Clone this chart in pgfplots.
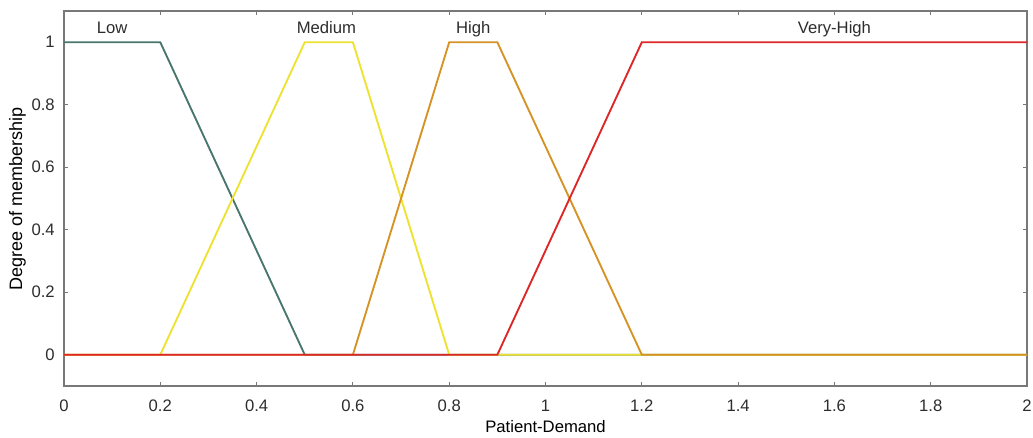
\documentclass[border=0pt]{standalone}
\usepackage{pgfplots}
\pgfplotsset{compat=1.18}
\usepackage{fontspec}
\setmainfont{Liberation Sans}

% membership-function colours
\definecolor{mfLow}{RGB}{72,118,108}
\definecolor{mfMed}{RGB}{238,226,48}
\definecolor{mfHigh}{RGB}{214,146,36}
\definecolor{mfVHigh}{RGB}{222,38,38}
\definecolor{axgray}{RGB}{120,120,120}
\definecolor{txt}{RGB}{45,45,45}

\newcommand{\lblfont}{\fontsize{12.5}{14}\selectfont}

\begin{document}
\begin{tikzpicture}[x=1pt,y=1pt]
\lblfont
\begin{axis}[
  scale only axis,
  width=722.25pt, height=281.25pt,
  xmin=0, xmax=2, ymin=-0.1, ymax=1.1,
  xtick={0,0.2,0.4,0.6,0.8,1,1.2,1.4,1.6,1.8,2},
  xticklabels={0,0.2,0.4,0.6,0.8,1,1.2,1.4,1.6,1.8,2},
  ytick={0,0.2,0.4,0.6,0.8,1},
  yticklabels={0,0.2,0.4,0.6,0.8,1},
  tick align=inside,
  major tick length=3pt,
  axis line style={draw=axgray, line width=0.8pt},
  tick style={draw=axgray, line width=0.7pt},
  /pgf/number format/assume math mode=true,
  ticklabel style={font=\lblfont, text=txt, inner sep=0pt},
  xticklabel style={anchor=center, yshift=-14.6pt},
  yticklabel style={anchor=east, xshift=-6.75pt},
  label style={font=\lblfont, text=txt},
  xlabel={Patient-Demand},
  ylabel={Degree of membership},
  every axis x label/.style={at={([yshift=-30.75pt]axis description cs:0.5,0)}, anchor=center},
  every axis y label/.style={at={([xshift=-34.9pt]axis description cs:0,0.5)}, rotate=90, anchor=center, font=\fontsize{13.5}{15}\selectfont},
  clip=false,
]
\addplot[mfLow, line width=1.4pt] coordinates {(0,1) (0.2,1) (0.5,0) (2,0)};
\addplot[mfMed, line width=1.4pt] coordinates {(0,0) (0.2,0) (0.5,1) (0.6,1) (0.8,0) (2,0)};
\addplot[mfHigh, line width=1.4pt] coordinates {(0,0) (0.6,0) (0.8,1) (0.9,1) (1.2,0) (2,0)};
\addplot[mfVHigh, line width=1.4pt] coordinates {(0,0) (0.9,0) (1.2,1) (2,1)};

\begin{scope}[every node/.style={text=txt, anchor=base, inner sep=0pt, font=\lblfont}]
\node at (axis cs:0.1,1.029) {Low};
\node at (axis cs:0.545,1.029) {Medium};
\node at (axis cs:0.85,1.029) {High};
\node at (axis cs:1.6,1.029) {Very-High};
\end{scope}
\end{axis}
\pgfresetboundingbox
\path (current axis.south west) ++(-48pt,-39pt) coordinate (bl);
\path (current axis.north east) ++(4.5pt,8.25pt) coordinate (tr);
\path (bl) rectangle (tr);
\end{tikzpicture}
\end{document}
